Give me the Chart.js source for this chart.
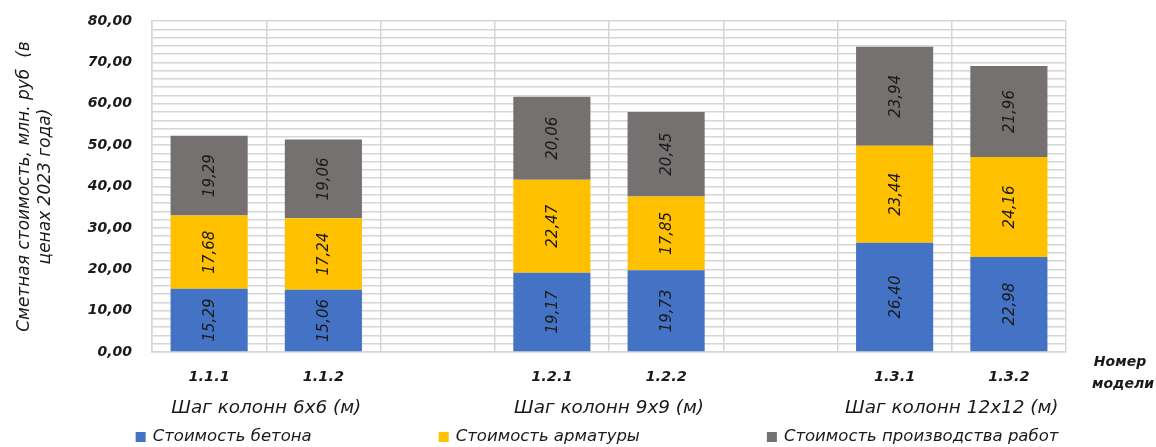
<!DOCTYPE html>
<html lang="ru">
<head>
<meta charset="utf-8">
<title>Сметная стоимость моделей</title>
<script src="https://cdn.jsdelivr.net/npm/chart.js@4.4.1/dist/chart.umd.min.js"></script>
<style>
  html, body { margin: 0; padding: 0; background: #ffffff; }
  #wrap { position: relative; width: 1156px; height: 447px; }
</style>
</head>
<body>
<div id="wrap"><canvas id="chart" width="1156" height="447"></canvas></div>
<script>
// Model numbers (empty slots separate the column-grid groups)
const models = ['1.1.1', '1.1.2', '', '1.2.1', '1.2.2', '', '1.3.1', '1.3.2'];

// Cost components, mln rub (2023 prices)
const concreteCost = [15.29, 15.06, null, 19.17, 19.73, null, 26.40, 22.98];
const rebarCost    = [17.68, 17.24, null, 22.47, 17.85, null, 23.44, 24.16];
const workCost     = [19.29, 19.06, null, 20.06, 20.45, null, 23.94, 21.96];

const seriesNames = ['Стоимость бетона', 'Стоимость арматуры', 'Стоимость производства работ'];

// Column-grid groups shown under the model numbers
const groupNames   = ['Шаг колонн 6х6 (м)', 'Шаг колонн 9х9 (м)', 'Шаг колонн 12х12 (м)'];
const groupMembers = [[0, 1], [3, 4], [6, 7]];

const yTitleLines = ['Сметная стоимость, млн. руб  (в', 'ценах 2023 года)'];
const xTitleLines = ['Номер', 'модели'];

const FONT = "'DejaVu Sans', sans-serif";
const INK = '#1a1a1a';
const fmt = v => v.toFixed(2).replace('.', ',');

// Values written vertically in the middle of every segment
const segmentLabels = {
  id: 'segmentLabels',
  afterDatasetsDraw(chart) {
    const ctx = chart.ctx;
    ctx.save();
    ctx.font = 'oblique 15px ' + FONT;
    ctx.fillStyle = INK;
    ctx.textAlign = 'center';
    ctx.textBaseline = 'middle';
    chart.data.datasets.forEach((ds, di) => {
      const meta = chart.getDatasetMeta(di);
      meta.data.forEach((bar, i) => {
        const v = ds.data[i];
        if (v === null || v === undefined) return;
        ctx.save();
        ctx.translate(bar.x, (bar.y + bar.base) / 2);
        ctx.rotate(-Math.PI / 2);
        ctx.fillText(fmt(v), 0, 1);
        ctx.restore();
      });
    });
    ctx.restore();
  }
};

// Group captions, axis caption on the right and the legend row
const captions = {
  id: 'captions',
  afterDraw(chart) {
    const ctx = chart.ctx;
    const xs = chart.scales.x;
    const area = chart.chartArea;
    ctx.save();
    ctx.fillStyle = INK;
    ctx.textBaseline = 'middle';

    // groups
    ctx.font = 'oblique 18.4px ' + FONT;
    ctx.textAlign = 'center';
    groupNames.forEach((name, g) => {
      const idx = groupMembers[g];
      const cx = idx.reduce((s, i) => s + xs.getPixelForValue(i), 0) / idx.length;
      ctx.fillText(name, cx, area.bottom + 56);
    });

    // axis caption
    ctx.font = 'bold oblique 14px ' + FONT;
    ctx.fillText(xTitleLines[0], area.right + 54, area.bottom + 10);
    ctx.fillText(xTitleLines[1], area.right + 57, area.bottom + 32);

    // legend
    ctx.font = 'oblique 16.5px ' + FONT;
    ctx.textAlign = 'left';
    const box = 10, boxGap = 7, itemGap = 127;
    const widths = chart.data.datasets.map(ds => box + boxGap + ctx.measureText(ds.label).width);
    const total = widths.reduce((a, b) => a + b, 0) + itemGap * (widths.length - 1);
    let x = (area.left + area.right) / 2 - 12 - total / 2;
    const y = area.bottom + 85;
    chart.data.datasets.forEach((ds, i) => {
      ctx.fillStyle = ds.backgroundColor;
      ctx.fillRect(x, y - box / 2, box, box);
      ctx.fillStyle = INK;
      ctx.fillText(ds.label, x + box + boxGap, y);
      x += widths[i] + itemGap;
    });
    ctx.restore();
  }
};

new Chart(document.getElementById('chart'), {
  type: 'bar',
  data: {
    labels: models,
    datasets: [
      { label: seriesNames[0], data: concreteCost, backgroundColor: '#4472C4' },
      { label: seriesNames[1], data: rebarCost,    backgroundColor: '#FFC000' },
      { label: seriesNames[2], data: workCost,     backgroundColor: '#767171' }
    ]
  },
  options: {
    responsive: false,
    animation: false,
    devicePixelRatio: 1,
    layout: { padding: { top: 21, right: 90, bottom: 0, left: 0 } },
    datasets: { bar: { barPercentage: 0.675, categoryPercentage: 1, borderWidth: 0 } },
    plugins: {
      legend: { display: false },
      tooltip: { enabled: false }
    },
    scales: {
      x: {
        stacked: true,
        offset: true,
        grid: { offset: true, color: '#d6d6d6', lineWidth: 1.5, drawTicks: false },
        border: { color: '#d6d6d6', width: 1.5 },
        ticks: {
          padding: 17,
          color: INK,
          font: { family: FONT, size: 14.5, style: 'oblique', weight: 'bold' },
          maxRotation: 0,
          autoSkip: false
        },
        afterFit(scale) {
          scale.height = 95;
          scale.paddingLeft = 0;
          scale.paddingRight = 0;
        }
      },
      y: {
        stacked: true,
        min: 0,
        max: 80,
        grid: { color: '#d6d6d6', lineWidth: 1.5, drawTicks: false },
        border: { color: '#d6d6d6', width: 1.5 },
        ticks: {
          stepSize: 2,
          maxTicksLimit: 100,
          autoSkip: false,
          padding: 20,
          color: INK,
          font: { family: FONT, size: 14, style: 'oblique', weight: 'bold' },
          callback: v => (Math.round(v) % 10 === 0 ? fmt(v) : '')
        },
        title: {
          display: true,
          text: yTitleLines,
          color: INK,
          padding: { top: 15, bottom: 0 },
          font: { family: FONT, size: 17, style: 'oblique', weight: 'normal', lineHeight: 1.18 }
        },
        afterFit(scale) {
          scale.width = 152;
          scale.paddingTop = 0;
          scale.paddingBottom = 0;
        }
      }
    }
  },
  plugins: [segmentLabels, captions]
});
</script>
</body>
</html>
